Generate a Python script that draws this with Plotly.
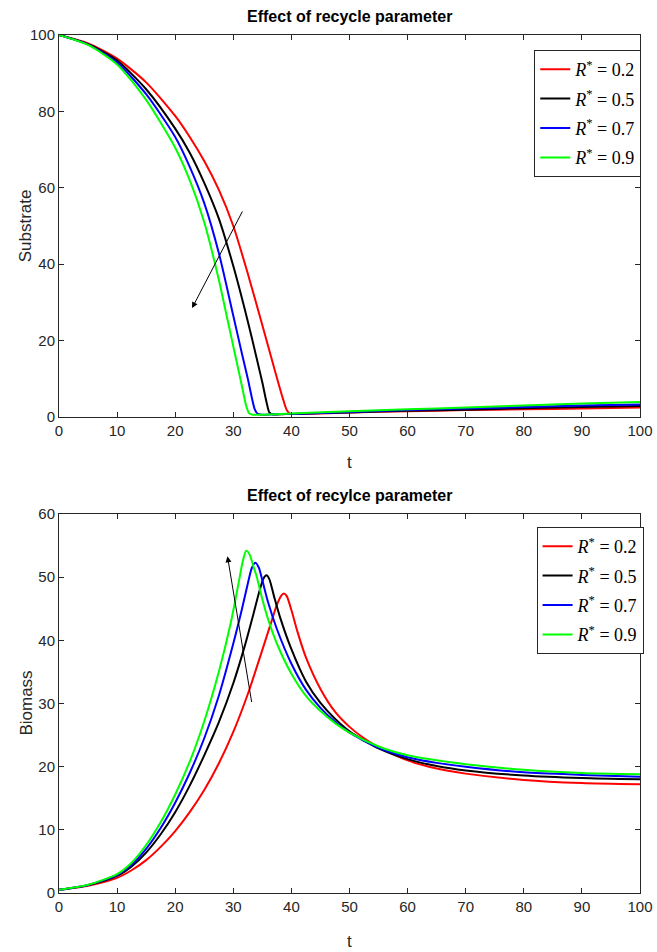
import plotly.graph_objects as go
from plotly.subplots import make_subplots

# ---------------- data ----------------
labels = ["0.2", "0.5", "0.7", "0.9"]
colors = ["#ff0000", "#000000", "#0000ff", "#00ff00"]

# Substrate (top panel)
s_t_red = [0, 5, 10, 15, 20, 22.5, 25, 27.5, 30, 32.5, 35, 37, 38.5, 39.2, 39.7, 40.5, 45, 50, 60, 70, 80, 90, 100]
s_red = [100, 97.8, 93.8, 87.6, 78.8, 73.3, 67, 59.5, 50, 37.5, 24, 13, 5, 1.8, 0.9, 0.8, 0.9, 1.2, 1.5, 1.8, 2.0, 2.2, 2.5]
s_t_black = [0, 5, 10, 15, 20, 22.5, 25, 27.5, 30, 32.5, 34, 35, 35.7, 36.2, 36.7, 38, 40, 50, 60, 70, 80, 90, 100]
s_black = [100, 97.6, 93.3, 85.8, 75.5, 69.2, 61.3, 52, 39.5, 25, 15.5, 9, 4, 1.2, 0.7, 0.7, 0.8, 1.2, 1.6, 1.9, 2.3, 2.6, 2.9]
s_t_blue = [0, 5, 10, 15, 20, 22.5, 25, 27.5, 30, 31.5, 32.5, 33.2, 33.7, 34.2, 35, 37, 40, 50, 60, 70, 80, 90, 100]
s_blue = [100, 97.5, 92.8, 84.5, 73.3, 65.5, 56, 43, 26.5, 16.5, 10, 5, 2, 0.8, 0.6, 0.7, 0.8, 1.3, 1.8, 2.2, 2.6, 3.0, 3.3]
s_t_green = [0, 5, 10, 15, 20, 22.5, 25, 27.5, 29, 30.5, 31.5, 32.2, 32.7, 33.3, 35, 40, 50, 60, 70, 80, 90, 100]
s_green = [100, 97.4, 92.3, 83, 70.5, 62, 51, 36, 25.5, 15, 8, 3, 1, 0.6, 0.6, 0.9, 1.5, 2.0, 2.5, 3.0, 3.5, 3.9]

# Biomass (bottom panel)
b_t_red = [0, 5, 10, 12.5, 15, 17.5, 20, 22.5, 25, 27.5, 30, 32.5, 35, 36.5, 37.5, 38.2, 38.7, 39.2, 40, 41, 42.5, 45, 47.5, 50, 52.5, 55, 60, 65, 70, 80, 90, 100]
b_red = [0.5, 1.15, 2.4, 3.6, 5.2, 7.3, 9.8, 12.8, 16.3, 20.5, 25.5, 31.5, 38.5, 42.8, 45.6, 47.0, 47.4, 47.0, 44.8, 41.5, 37.3, 32.3, 28.7, 26.3, 24.5, 23.1, 21.0, 19.7, 18.9, 17.9, 17.4, 17.2]
b_t_black = [0, 5, 10, 12.5, 15, 17.5, 20, 22.5, 25, 27.5, 30, 32, 33.5, 34.5, 35.2, 35.7, 36.2, 37, 38, 40, 42.5, 45, 47.5, 50, 55, 60, 65, 70, 80, 90, 100]
b_black = [0.5, 1.25, 2.7, 4.2, 6.4, 9.3, 12.8, 17.0, 21.8, 27.0, 33.2, 39.2, 44.3, 47.8, 49.8, 50.3, 49.7, 47, 43.8, 38.6, 33.5, 30.1, 27.6, 25.6, 22.9, 21.2, 20.1, 19.4, 18.6, 18.2, 18.0]
b_t_blue = [0, 5, 10, 12.5, 15, 17.5, 20, 22.5, 25, 27.5, 30, 31.5, 32.5, 33.2, 33.8, 34.4, 35, 36, 37.5, 40, 42.5, 45, 47.5, 50, 55, 60, 65, 70, 80, 90, 100]
b_blue = [0.5, 1.28, 2.85, 4.5, 7.0, 10.3, 14.3, 19.0, 24.5, 31.2, 39.5, 45, 49, 51.5, 52.3, 51.5, 49.5, 46, 41.8, 36.3, 32.2, 29.3, 27.1, 25.4, 23.0, 21.5, 20.6, 20.0, 19.1, 18.7, 18.4]
b_t_green = [0, 5, 10, 12.5, 15, 17.5, 20, 22.5, 25, 27.5, 29.5, 31, 31.6, 32.2, 32.8, 33.5, 34, 35, 36, 37.5, 40, 42.5, 45, 47.5, 50, 55, 60, 65, 70, 80, 90, 100]
b_green = [0.5, 1.3, 3.0, 4.8, 7.6, 11.2, 15.6, 20.8, 27.2, 35, 42.5, 49.5, 52.4, 54.2, 53.6, 51.6, 50.2, 46.5, 43.3, 39.5, 34.7, 31.2, 28.8, 26.9, 25.4, 23.2, 21.8, 21.0, 20.4, 19.5, 19.0, 18.8]

x_ticks = [0, 10, 20, 30, 40, 50, 60, 70, 80, 90, 100]
top_y_ticks = [0, 20, 40, 60, 80, 100]
bot_y_ticks = [0, 10, 20, 30, 40, 50, 60]

sub_t = [s_t_red, s_t_black, s_t_blue, s_t_green]
sub_v = [s_red, s_black, s_blue, s_green]
bio_t = [b_t_red, b_t_black, b_t_blue, b_t_green]
bio_v = [b_red, b_black, b_blue, b_green]

# ---------------- figure ----------------
fig = make_subplots(rows=2, cols=1, vertical_spacing=0.1135)

for i in range(4):
    name = "<i>R</i><sup>*</sup> = " + labels[i]
    fig.add_trace(go.Scatter(x=sub_t[i], y=sub_v[i], mode="lines", name=name,
                             line=dict(color=colors[i], width=2, shape="spline", smoothing=0.7),
                             legend="legend", legendgroup="a" + str(i)), row=1, col=1)
for i in range(4):
    name = "<i>R</i><sup>*</sup> = " + labels[i]
    fig.add_trace(go.Scatter(x=bio_t[i], y=bio_v[i], mode="lines", name=name,
                             line=dict(color=colors[i], width=2, shape="spline", smoothing=0.7),
                             legend="legend2", legendgroup="b" + str(i)), row=2, col=1)

tickfont = dict(family="Liberation Sans Narrow, Liberation Sans, Arial", size=15, color="#262626")
axcommon = dict(showgrid=False, zeroline=False, showline=True, linecolor="#262626", linewidth=1,
                mirror="ticks", ticks="inside", ticklen=5, tickcolor="#262626", tickfont=tickfont,
                automargin=False)

fig.update_xaxes(range=[0, 100], tickvals=x_ticks, **axcommon)
fig.update_yaxes(**axcommon)
fig.update_yaxes(range=[0, 100], tickvals=top_y_ticks, row=1, col=1)
fig.update_yaxes(range=[0, 60], tickvals=bot_y_ticks, row=2, col=1)

fig.update_layout(yaxis=dict(domain=[0.5548, 1.0]), yaxis2=dict(domain=[0.0, 0.4417]))

legfont = dict(family="Liberation Serif, DejaVu Serif, serif", size=18, color="#000000")
legcommon = dict(bgcolor="white", bordercolor="#262626", borderwidth=1, font=legfont,
                 xanchor="left", yanchor="top", itemwidth=30, tracegroupgap=3)

fig.update_layout(
    width=657, height=952,
    margin=dict(l=59, r=17, t=35, b=59),
    paper_bgcolor="white", plot_bgcolor="white",
    showlegend=True,
    legend=dict(x=0.818, y=0.9825, **legcommon),
    legend2=dict(x=0.822, y=0.4266, **legcommon),
)

# axis titles as annotations (precise placement)
titlefont = dict(family="Liberation Sans, Arial", size=17, color="#262626")
fig.add_annotation(text="t", xref="paper", yref="paper", x=0.5, y=0.5012,
                   xanchor="center", yanchor="middle", showarrow=False, font=titlefont)
fig.add_annotation(text="t", xref="paper", yref="paper", x=0.5, y=-0.0571,
                   xanchor="center", yanchor="middle", showarrow=False, font=titlefont)
fig.add_annotation(text="Substrate", xref="paper", yref="paper", x=-0.0585, y=0.777,
                   xanchor="center", yanchor="middle", textangle=-90, showarrow=False, font=titlefont)
fig.add_annotation(text="Biomass", xref="paper", yref="paper", x=-0.055, y=0.2208,
                   xanchor="center", yanchor="middle", textangle=-90, showarrow=False, font=titlefont)

boldfont = dict(family="Liberation Sans Narrow, Liberation Sans, Arial", size=16, color="#000000")
fig.add_annotation(text="<b>Effect of recycle parameter</b>", xref="paper", yref="paper",
                   x=0.5, y=1.0, yshift=8, xanchor="center", yanchor="bottom",
                   showarrow=False, font=boldfont)
fig.add_annotation(text="<b>Effect of recylce parameter</b>", xref="paper", yref="paper",
                   x=0.5, y=0.4417, yshift=8, xanchor="center", yanchor="bottom",
                   showarrow=False, font=boldfont)

# arrows
fig.add_annotation(x=22.9, y=28.5, ax=31.7, ay=54.2, xref="x", yref="y", axref="x", ayref="y",
                   showarrow=True, arrowhead=2, arrowsize=1.2, arrowwidth=1, arrowcolor="#000000", text="")
fig.add_annotation(x=29.0, y=53.3, ax=33.2, ay=30.0, xref="x2", yref="y2", axref="x2", ayref="y2",
                   showarrow=True, arrowhead=2, arrowsize=1.2, arrowwidth=1, arrowcolor="#000000", text="")

fig.write_html("out.html")
